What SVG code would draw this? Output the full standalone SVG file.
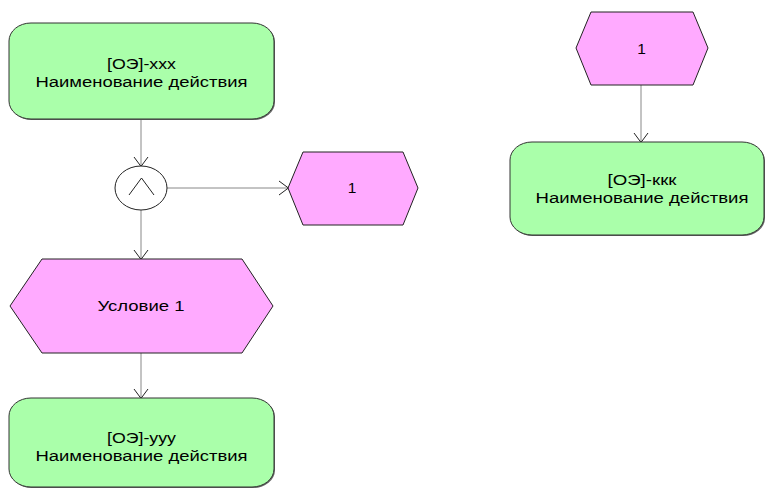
<svg xmlns="http://www.w3.org/2000/svg" width="765" height="488" viewBox="0 0 765 488">
<defs>
<style>
.fn{fill:#aaffaa;stroke:#333;stroke-width:1}
.ev{fill:#ffaaff;stroke:#222;stroke-width:1}
.sh{fill:#666;stroke:none}
.t{font-family:"Liberation Sans",Arial,sans-serif;font-size:15.5px;fill:#000;text-anchor:middle}
.c{fill:none;stroke:#888;stroke-width:1}
.op{fill:#fff;stroke:#222;stroke-width:1}
</style>
<marker id="arr" markerUnits="userSpaceOnUse" markerWidth="16" markerHeight="18" viewBox="0 0 16 18" refX="12" refY="9" orient="auto">
<path d="M3,2 L13.5,9.8 M3,16 L13.5,8.2" fill="none" stroke="#222" stroke-width="1"/>
</marker>
</defs>
<rect width="765" height="488" fill="#fff"/>
<g id="connectors">
<line class="c" x1="141" y1="120" x2="141" y2="166" marker-end="url(#arr)"/>
<line class="c" x1="167" y1="188" x2="288" y2="188" marker-end="url(#arr)"/>
<line class="c" x1="141" y1="210" x2="141" y2="259" marker-end="url(#arr)"/>
<line class="c" x1="141" y1="353" x2="141" y2="398" marker-end="url(#arr)"/>
<line class="c" x1="641" y1="85" x2="641" y2="142" marker-end="url(#arr)"/>
</g>
<g id="node-xxx">
<rect class="sh" x="10" y="24" width="265" height="96" rx="22" ry="18"/>
<rect class="fn" x="9" y="23" width="265" height="96" rx="22" ry="18"/>
<text class="t" x="141.5" y="69" textLength="69" lengthAdjust="spacingAndGlyphs">[ОЭ]-xxx</text>
<text class="t" x="141.5" y="87" textLength="212" lengthAdjust="spacingAndGlyphs">Наименование действия</text>
</g>
<g id="and-operator">
<ellipse class="op" cx="141" cy="188" rx="26" ry="22"/>
<path d="M129,195 L141.5,178 L154,195" fill="none" stroke="#222" stroke-width="1"/>
</g>
<g id="event-1-left">
<polygon class="ev" points="288,188 303,152 403,152 418,188 403,225 303,225"/>
<text class="t" x="352" y="193">1</text>
</g>
<g id="event-condition">
<polygon class="ev" points="10,306 42,259 242,259 273,306 242,353 42,353"/>
<text class="t" x="141" y="311" textLength="87" lengthAdjust="spacingAndGlyphs">Условие 1</text>
</g>
<g id="node-yyy">
<rect class="sh" x="10" y="399" width="265" height="89" rx="22" ry="18"/>
<rect class="fn" x="9" y="398" width="265" height="89" rx="22" ry="18"/>
<text class="t" x="141.5" y="443" textLength="69" lengthAdjust="spacingAndGlyphs">[ОЭ]-yyy</text>
<text class="t" x="141.5" y="461" textLength="212" lengthAdjust="spacingAndGlyphs">Наименование действия</text>
</g>
<g id="event-1-right">
<polygon class="ev" points="576,48 591,12 693,12 708,48 693,85 591,85"/>
<text class="t" x="641.5" y="54">1</text>
</g>
<g id="node-kkk">
<rect class="sh" x="511" y="143" width="254" height="93" rx="22" ry="18"/>
<rect class="fn" x="510" y="142" width="254" height="93" rx="22" ry="18"/>
<text class="t" x="642" y="185" textLength="69" lengthAdjust="spacingAndGlyphs">[ОЭ]-ккк</text>
<text class="t" x="642" y="203" textLength="213" lengthAdjust="spacingAndGlyphs">Наименование действия</text>
</g>
</svg>
